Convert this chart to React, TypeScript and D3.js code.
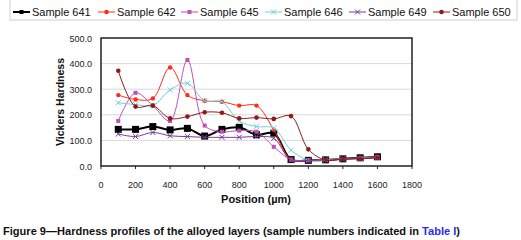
import React from "react";
import * as d3 from "d3";

const positions = [100, 200, 300, 400, 500, 600, 700, 800, 900, 1000, 1100, 1200, 1300, 1400, 1500, 1600];
const s641 = [143, 143, 154, 141, 147, 117, 143, 151, 122, 128, 25, 22, 24, 28, 32, 36];
const s642 = [277, 260, 264, 385, 277, 255, 251, 236, 236, 141, 25, 22, 23, 28, 30, 33];
const s645 = [176, 286, 236, 176, 414, 158, 134, 138, 134, 75, 25, 22, 24, 28, 32, 36];
const s646 = [247, 240, 236, 297, 323, 255, 251, 175, 154, 148, 62, 23, 24, 28, 30, 33];
const s649 = [125, 115, 131, 118, 115, 112, 112, 112, 115, 108, 22, 22, 23, 27, 30, 33];
const s650 = [372, 232, 236, 186, 193, 210, 208, 186, 189, 184, 195, 65, 23, 27, 28, 32];

const seriesNames = ["Sample 641", "Sample 642", "Sample 645", "Sample 646", "Sample 649", "Sample 650"];
const xTicks = [0, 200, 400, 600, 800, 1000, 1200, 1400, 1600, 1800];
const yTicks = [0, 100, 200, 300, 400, 500];

const styles = [
  { color: "#000000", width: 2, marker: "bigsquare" },
  { color: "#ff2a1a", width: 1, marker: "dot" },
  { color: "#c24fb8", width: 1, marker: "square" },
  { color: "#6fd0dc", width: 1, marker: "x" },
  { color: "#7a3a96", width: 1, marker: "x" },
  { color: "#8e1a1a", width: 1, marker: "circle" },
];

const seriesValues = [s641, s642, s645, s646, s649, s650];

function Marker({ kind, color, x, y }: { kind: string; color: string; x: number; y: number }) {
  if (kind === "bigsquare") return <rect x={x - 3.5} y={y - 3.5} width={7} height={7} fill={color} />;
  if (kind === "square") return <rect x={x - 2} y={y - 2} width={4} height={4} fill={color} />;
  if (kind === "dot") return <circle cx={x} cy={y} r={2.2} fill={color} />;
  if (kind === "circle") return <circle cx={x} cy={y} r={2.3} fill={color} />;
  return (
    <g stroke={color} strokeWidth={1}>
      <line x1={x - 2.5} y1={y - 2.5} x2={x + 2.5} y2={y + 2.5} />
      <line x1={x - 2.5} y1={y + 2.5} x2={x + 2.5} y2={y - 2.5} />
    </g>
  );
}

export default function App() {
  const left = 101, right = 412, top = 38, bottom = 166;
  const x = d3.scaleLinear().domain([0, 1800]).range([left, right]);
  const y = d3.scaleLinear().domain([0, 500]).range([bottom, top]);
  const line = d3
    .line<number>()
    .x((_, i) => x(positions[i]))
    .y((d) => y(d))
    .curve(d3.curveCatmullRom.alpha(0.5));

  const legendX = [13, 98, 181, 265, 349, 433];

  return (
    <svg
      width={521}
      height={240}
      style={{ position: "absolute", left: 0, top: 0, background: "#fff" }}
      fontFamily="'Liberation Sans', Arial, sans-serif"
    >
      <rect x={0} y={0} width={521} height={240} fill="#fff" />
      {/* legend */}
      <rect x={10} y={-1} width={507} height={21} fill="#fff" stroke="#cfcfcf" strokeWidth={1} />
      {seriesNames.map((n, i) => (
        <g key={n}>
          <line x1={legendX[i]} x2={legendX[i] + 17} y1={12} y2={12} stroke={styles[i].color} strokeWidth={styles[i].width} />
          <Marker kind={styles[i].marker === "bigsquare" ? "square" : styles[i].marker} color={styles[i].color} x={legendX[i] + 8.5} y={12} />
          <text x={legendX[i] + 19} y={16} fontSize={11} fill="#111">
            {n}
          </text>
        </g>
      ))}
      {/* gridlines */}
      {yTicks.slice(1, -1).map((t) => (
        <line key={t} x1={left} x2={right} y1={y(t)} y2={y(t)} stroke="#d9d9d9" strokeWidth={1} />
      ))}
      {/* series */}
      {seriesValues.map((vals, i) => (
        <g key={i}>
          <path d={line(vals) || ""} fill="none" stroke={styles[i].color} strokeWidth={styles[i].width} />
          {vals.map((v, j) => (
            <Marker key={j} kind={styles[i].marker} color={styles[i].color} x={x(positions[j])} y={y(v)} />
          ))}
        </g>
      ))}
      {/* frame */}
      <rect x={left} y={top} width={right - left} height={bottom - top} fill="none" stroke="#222" strokeWidth={1.5} />
      {/* y ticks */}
      {yTicks.map((t) => (
        <text key={t} x={92} y={y(t) + 3.5} fontSize={9} textAnchor="end" fill="#222">
          {t.toFixed(1)}
        </text>
      ))}
      {/* x ticks */}
      {xTicks.map((t) => (
        <g key={t}>
          <line x1={x(t)} x2={x(t)} y1={bottom} y2={bottom + 3} stroke="#222" strokeWidth={1} />
          <text x={x(t)} y={188} fontSize={9} textAnchor="middle" fill="#222">
            {t}
          </text>
        </g>
      ))}
      <text x={256} y={203} fontSize={11} fontWeight="bold" textAnchor="middle" fill="#111">
        Position (µm)
      </text>
      <text
        transform="translate(64,102) rotate(-90)"
        fontSize={10.5}
        fontWeight="bold"
        textAnchor="middle"
        fill="#111"
      >
        Vickers Hardness
      </text>
      {/* caption */}
      <text x={3} y={235} fontSize={10} fontWeight="bold" fill="#111" textLength={457} lengthAdjust="spacingAndGlyphs">
        Figure 9—Hardness profiles of the alloyed layers (sample numbers indicated in{" "}
        <tspan fill="#2a2aee">Table I</tspan>)
      </text>
    </svg>
  );
}
